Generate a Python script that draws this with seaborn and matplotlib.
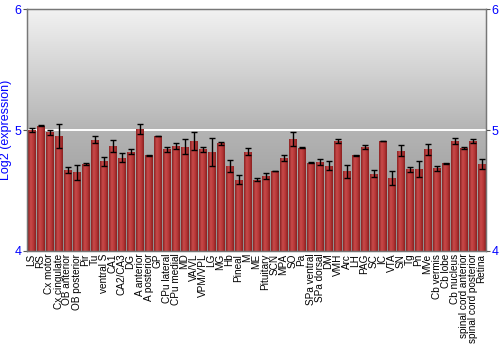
import numpy as np
import pandas as pd
import matplotlib
matplotlib.use("Agg")
import matplotlib.pyplot as plt
import seaborn as sns
from matplotlib.colors import LinearSegmentedColormap

regions = ["LS", "RS", "Cx motor", "Cx cingulate", "OB anterior", "OB posterior", "Pir", "Tu",
           "ventral S", "CA1", "CA2/CA3", "DG", "A anterior", "A posterior", "GP", "CPu lateral",
           "CPu medial", "MD", "VA/VL", "VPM/VPL", "LG", "MG", "Hb", "Pineal", "M", "ME",
           "Pituitary", "SCN", "MPA", "SO", "Pa", "SPa ventral", "SPa dorsal", "DM", "VMH", "Arc",
           "LH", "PAG", "SC", "IC", "VTA", "SN", "Tg", "Pn", "MVe", "Cb vermis", "Cb lobe",
           "Cb nucleus", "spinal cord anterior", "spinal cord posterior", "Retina"]
expression = [5.00, 5.035, 4.98, 4.95, 4.67, 4.65, 4.72, 4.92,
              4.74, 4.87, 4.77, 4.82, 5.01, 4.79, 4.95, 4.84,
              4.87, 4.86, 4.91, 4.84, 4.82, 4.89, 4.70, 4.59, 4.82, 4.59,
              4.62, 4.66, 4.77, 4.925, 4.855, 4.73, 4.735, 4.705, 4.91, 4.66,
              4.79, 4.86, 4.64, 4.91, 4.605, 4.83, 4.675, 4.68, 4.84, 4.685, 4.725,
              4.91, 4.855, 4.91, 4.72]
error = [0.02, 0.005, 0.02, 0.10, 0.022, 0.062, 0.007, 0.027,
         0.037, 0.05, 0.036, 0.02, 0.043, 0.002, 0.003, 0.018,
         0.025, 0.062, 0.077, 0.02, 0.117, 0.01, 0.05, 0.036, 0.03, 0.015,
         0.022, 0.002, 0.023, 0.058, 0.002, 0.002, 0.025, 0.035, 0.014, 0.054,
         0.002, 0.014, 0.028, 0.002, 0.056, 0.047, 0.022, 0.066, 0.045, 0.02, 0.002,
         0.027, 0.008, 0.018, 0.044]
y_ticks = [4, 5, 6]
y_label = "Log2 (expression)"

df = pd.DataFrame({"region": regions, "expression": expression, "error": error})
df["height"] = df["expression"] - 4

sns.set_style("white")
plt.rcParams["font.family"] = ["Liberation Sans", "DejaVu Sans"]

fig = plt.figure(figsize=(5, 3.5), dpi=100)
ax = fig.add_axes([0.054, 0.283, 0.918, 0.691])

# background gradient
bg = LinearSegmentedColormap.from_list("bg", ["#8e8e8e", "#b4b4b4", "#f2f2f2"])
grad = np.linspace(0, 1, 256).reshape(-1, 1)
ax.imshow(grad, cmap=bg, aspect="auto", origin="lower",
          extent=[-0.5, len(regions) - 0.5, 4, 6], zorder=0)

sns.barplot(data=df, x="region", y="height", bottom=4, color="#b83a3a",
            width=0.88, ax=ax, zorder=2, edgecolor="#7a1c1c", linewidth=0.4)

# red horizontal gradient inside each bar
barcmap = LinearSegmentedColormap.from_list("bar", ["#8a2222", "#c84a4a", "#b83838", "#8a2020"])
hgrad = np.linspace(0, 1, 64).reshape(1, -1)
centers = []
for p in ax.patches:
    x0, y0 = p.get_x(), p.get_y()
    w, h = p.get_width(), p.get_height()
    centers.append(x0 + w / 2)
    im = ax.imshow(hgrad, cmap=barcmap, aspect="auto",
                   extent=[x0, x0 + w, y0, y0 + h], zorder=2.5)
    im.set_clip_path(p)

ax.errorbar(centers, df["expression"], yerr=df["error"], fmt="none",
            ecolor="black", elinewidth=1, capsize=2.2, capthick=1, zorder=4)

ax.axhline(5, color="white", lw=1.4, zorder=1)

ax.set_xlim(-0.5, len(regions) - 0.5)
ax.set_ylim(4, 6)
ax.set_yticks(y_ticks)
ax.set_yticklabels([str(t) for t in y_ticks])
ax.set_xlabel("")
ax.set_ylabel(y_label, color="blue", fontsize=9, labelpad=2)
ax.tick_params(axis="y", colors="blue", labelsize=9, length=3, width=0.8, pad=1, left=True)
ax.tick_params(axis="y", color="#555555")
ax.set_xticks(range(len(regions)))
ax.set_xticklabels(regions, rotation=90, fontsize=7.2, color="black")
ax.tick_params(axis="x", length=0, pad=2)
for s in ax.spines.values():
    s.set_color("#777777")
    s.set_linewidth(1)

ax2 = ax.twinx()
ax2.set_ylim(4, 6)
ax2.set_yticks(y_ticks)
ax2.set_yticklabels([str(t) for t in y_ticks])
ax2.tick_params(axis="y", labelcolor="blue", color="#555555", labelsize=9, length=3, width=0.8, pad=1)
for s in ax2.spines.values():
    s.set_color("#777777")

fig.savefig("out.png", dpi=100)
